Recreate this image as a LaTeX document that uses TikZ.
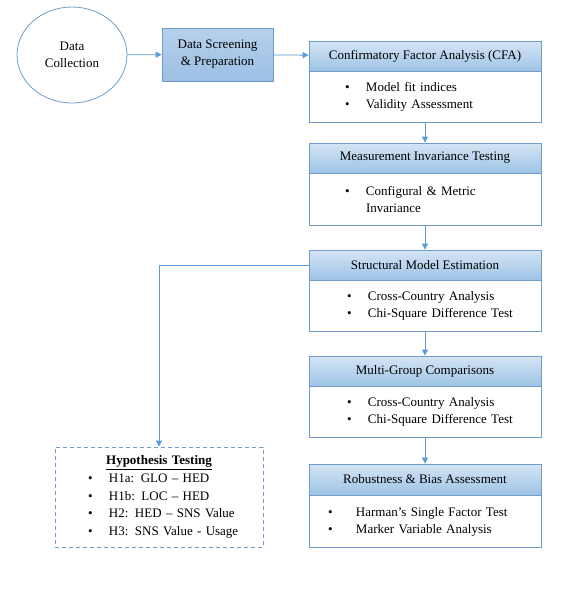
\documentclass[tikz,border=0pt]{standalone}
\usepackage{fontspec}
\setmainfont{Liberation Serif}
\usetikzlibrary{positioning,shapes.geometric,arrows.meta}
\definecolor{cline}{HTML}{6F9CCB}
\definecolor{carrow}{HTML}{5B9BD5}
\definecolor{chtop}{HTML}{D5E5F4}
\definecolor{chbot}{HTML}{9DC3E6}
\definecolor{cdtop}{HTML}{B6D1EC}
\definecolor{cdbot}{HTML}{9CBFE4}
\newcommand{\bitem}[2][36pt]{\hspace*{#1}\makebox[21pt][l]{\textbullet}#2}

\begin{document}
\begin{tikzpicture}[x=1pt,y=-1pt,>={Triangle[width=6pt,length=6pt]},
    every node/.style={font=\fontsize{13}{17}\selectfont},
    head/.style={draw=cline,line width=0.8pt,top color=chtop,bottom color=chbot,
      minimum width=232pt,minimum height=30pt,inner sep=0pt},
    body/.style={draw=cline,line width=0.8pt,fill=white,minimum width=232pt,
      minimum height=51pt,text width=232pt,inner sep=0pt,align=left,below=0pt of #1},
    flow/.style={->,carrow,line width=0.8pt}]
    \useasboundingbox (0,0) rectangle (566,590);
    % start of the flow
    \node[ellipse,draw=cline,line width=0.8pt,minimum width=110pt,minimum height=96pt,
      align=center] (dc) at (72,55) {Data\\Collection};
    \node[draw=cline,line width=0.8pt,top color=cdtop,bottom color=cdbot,
      minimum width=111pt,minimum height=53pt,align=center] (dsp) at (217.5,54.5)
      {Data Screening\\\& Preparation};
    % analysis stages
    \node[head] (cfa) at (425,56) {Confirmatory Factor Analysis (CFA)};
    \node[body=cfa] (cfab) {\bitem{Model fit indices}\\ \bitem{Validity Assessment}};
    \node[head] (mit) at (425,158) {Measurement Invariance Testing};
    \node[body=mit,minimum height=52pt] (mitb)
      {\bitem{Configural \& Metric}\\ \hspace*{57pt}Invariance};
    \node[head] (sme) at (425,265) {Structural Model Estimation};
    \node[body=sme] (smeb)
      {\bitem[38pt]{Cross-Country Analysis}\\ \bitem[38pt]{Chi-Square Difference Test}};
    \node[head] (mgc) at (425,371) {Multi-Group Comparisons};
    \node[body=mgc] (mgcb)
      {\bitem[38pt]{Cross-Country Analysis}\\ \bitem[38pt]{Chi-Square Difference Test}};
    \node[head,minimum height=31pt] (rba) at (425,479.5) {Robustness \& Bias Assessment};
    \node[body=rba,minimum height=52pt] (rbab)
      {\bitem[19pt]{\makebox[7pt][l]{}Harman’s Single Factor Test}\\
       \bitem[19pt]{\makebox[7pt][l]{}Marker Variable Analysis}};
    % hypotheses
    \node[draw=cline,line width=0.8pt,dash pattern=on 4pt off 3pt,minimum width=208pt,
      minimum height=100pt,text width=208pt,inner sep=0pt,align=left,
      font=\fontsize{13}{17.6}\selectfont] (hyp) at (159,497)
      {\centering\textbf{\underline{Hypothesis Testing}}\par\raggedright
       \bitem[33pt]{H1a: GLO – HED}\\ \bitem[33pt]{H1b: LOC – HED}\\
       \bitem[33pt]{H2: HED – SNS Value}\\ \bitem[33pt]{H3: SNS Value - Usage}};
    % connectors
    \draw[flow] (dc) -- (dsp);
    \draw[flow] (dsp) -- (cfa);
    \draw[flow] (cfab) -- (mit);
    \draw[flow] (mitb) -- (sme);
    \draw[flow] (smeb) -- (mgc);
    \draw[flow] (mgcb) -- (rba);
    \draw[flow] (sme.west) -| (hyp.north);
\end{tikzpicture}
\end{document}
